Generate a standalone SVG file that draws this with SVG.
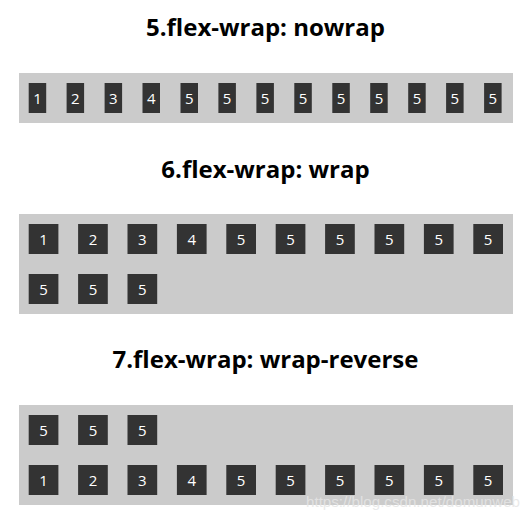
<svg xmlns="http://www.w3.org/2000/svg" width="529" height="516" viewBox="0 0 529 516">
<style>
.title{font-family:"Open Sans","Noto Sans","DejaVu Sans",sans-serif;font-weight:bold;font-size:24px;fill:#000;text-anchor:middle}
.bg{fill:#cbcbcb}
.box rect{fill:#333}
.box text{font-family:"Open Sans","Noto Sans",sans-serif;font-size:15px;fill:#fff;text-anchor:middle}
.wm{font-family:"Liberation Sans",Arial,sans-serif;font-size:15px;fill:#e6e6e6;fill-opacity:0.85}
</style>
<rect width="529" height="516" fill="#fff"/>
<text class="title" x="265.5" y="36">5.flex-wrap: nowrap</text>
<g id="container1">
<rect class="bg" x="19" y="73" width="494" height="50"/>
<g id="c1-b1" class="box"><rect x="28.7" y="83" width="17.5" height="30"/><text x="37.45" y="103.5">1</text></g>
<g id="c1-b2" class="box"><rect x="66.6" y="83" width="17.5" height="30"/><text x="75.35" y="103.5">2</text></g>
<g id="c1-b3" class="box"><rect x="104.6" y="83" width="17.5" height="30"/><text x="113.35" y="103.5">3</text></g>
<g id="c1-b4" class="box"><rect x="142.5" y="83" width="17.5" height="30"/><text x="151.25" y="103.5">4</text></g>
<g id="c1-b5" class="box"><rect x="180.5" y="83" width="17.5" height="30"/><text x="189.25" y="103.5">5</text></g>
<g id="c1-b6" class="box"><rect x="218.4" y="83" width="17.5" height="30"/><text x="227.15" y="103.5">5</text></g>
<g id="c1-b7" class="box"><rect x="256.4" y="83" width="17.5" height="30"/><text x="265.15" y="103.5">5</text></g>
<g id="c1-b8" class="box"><rect x="294.3" y="83" width="17.5" height="30"/><text x="303.05" y="103.5">5</text></g>
<g id="c1-b9" class="box"><rect x="332.3" y="83" width="17.5" height="30"/><text x="341.05" y="103.5">5</text></g>
<g id="c1-b10" class="box"><rect x="370.2" y="83" width="17.5" height="30"/><text x="378.95" y="103.5">5</text></g>
<g id="c1-b11" class="box"><rect x="408.2" y="83" width="17.5" height="30"/><text x="416.95" y="103.5">5</text></g>
<g id="c1-b12" class="box"><rect x="446.1" y="83" width="17.5" height="30"/><text x="454.85" y="103.5">5</text></g>
<g id="c1-b13" class="box"><rect x="484.1" y="83" width="17.5" height="30"/><text x="492.85" y="103.5">5</text></g>
</g>

<text class="title" x="265.5" y="178">6.flex-wrap: wrap</text>
<g id="container2">
<rect class="bg" x="19" y="214" width="494" height="100"/>
<g id="c2-b1" class="box"><rect x="28.7" y="224" width="29.7" height="30"/><text x="43.55" y="244.5">1</text></g>
<g id="c2-b2" class="box"><rect x="78.1" y="224" width="29.7" height="30"/><text x="92.95" y="244.5">2</text></g>
<g id="c2-b3" class="box"><rect x="127.5" y="224" width="29.7" height="30"/><text x="142.35" y="244.5">3</text></g>
<g id="c2-b4" class="box"><rect x="176.9" y="224" width="29.7" height="30"/><text x="191.75" y="244.5">4</text></g>
<g id="c2-b5" class="box"><rect x="226.3" y="224" width="29.7" height="30"/><text x="241.15" y="244.5">5</text></g>
<g id="c2-b6" class="box"><rect x="275.7" y="224" width="29.7" height="30"/><text x="290.55" y="244.5">5</text></g>
<g id="c2-b7" class="box"><rect x="325.1" y="224" width="29.7" height="30"/><text x="339.95" y="244.5">5</text></g>
<g id="c2-b8" class="box"><rect x="374.5" y="224" width="29.7" height="30"/><text x="389.35" y="244.5">5</text></g>
<g id="c2-b9" class="box"><rect x="423.9" y="224" width="29.7" height="30"/><text x="438.75" y="244.5">5</text></g>
<g id="c2-b10" class="box"><rect x="473.3" y="224" width="29.7" height="30"/><text x="488.15" y="244.5">5</text></g>
<g id="c2-b11" class="box"><rect x="28.7" y="274" width="29.7" height="30"/><text x="43.55" y="294.5">5</text></g>
<g id="c2-b12" class="box"><rect x="78.1" y="274" width="29.7" height="30"/><text x="92.95" y="294.5">5</text></g>
<g id="c2-b13" class="box"><rect x="127.5" y="274" width="29.7" height="30"/><text x="142.35" y="294.5">5</text></g>
</g>

<text class="title" x="265.5" y="368">7.flex-wrap: wrap-reverse</text>
<g id="container3">
<rect class="bg" x="19" y="405" width="494" height="100"/>
<g id="c3-b11" class="box"><rect x="28.7" y="415" width="29.7" height="30"/><text x="43.55" y="435.5">5</text></g>
<g id="c3-b12" class="box"><rect x="78.1" y="415" width="29.7" height="30"/><text x="92.95" y="435.5">5</text></g>
<g id="c3-b13" class="box"><rect x="127.5" y="415" width="29.7" height="30"/><text x="142.35" y="435.5">5</text></g>
<g id="c3-b1" class="box"><rect x="28.7" y="465" width="29.7" height="30"/><text x="43.55" y="485.5">1</text></g>
<g id="c3-b2" class="box"><rect x="78.1" y="465" width="29.7" height="30"/><text x="92.95" y="485.5">2</text></g>
<g id="c3-b3" class="box"><rect x="127.5" y="465" width="29.7" height="30"/><text x="142.35" y="485.5">3</text></g>
<g id="c3-b4" class="box"><rect x="176.9" y="465" width="29.7" height="30"/><text x="191.75" y="485.5">4</text></g>
<g id="c3-b5" class="box"><rect x="226.3" y="465" width="29.7" height="30"/><text x="241.15" y="485.5">5</text></g>
<g id="c3-b6" class="box"><rect x="275.7" y="465" width="29.7" height="30"/><text x="290.55" y="485.5">5</text></g>
<g id="c3-b7" class="box"><rect x="325.1" y="465" width="29.7" height="30"/><text x="339.95" y="485.5">5</text></g>
<g id="c3-b8" class="box"><rect x="374.5" y="465" width="29.7" height="30"/><text x="389.35" y="485.5">5</text></g>
<g id="c3-b9" class="box"><rect x="423.9" y="465" width="29.7" height="30"/><text x="438.75" y="485.5">5</text></g>
<g id="c3-b10" class="box"><rect x="473.3" y="465" width="29.7" height="30"/><text x="488.15" y="485.5">5</text></g>
</g>
<text class="wm" x="306" y="507" textLength="214" lengthAdjust="spacingAndGlyphs">https://blog.csdn.net/domunweb</text>
</svg>
